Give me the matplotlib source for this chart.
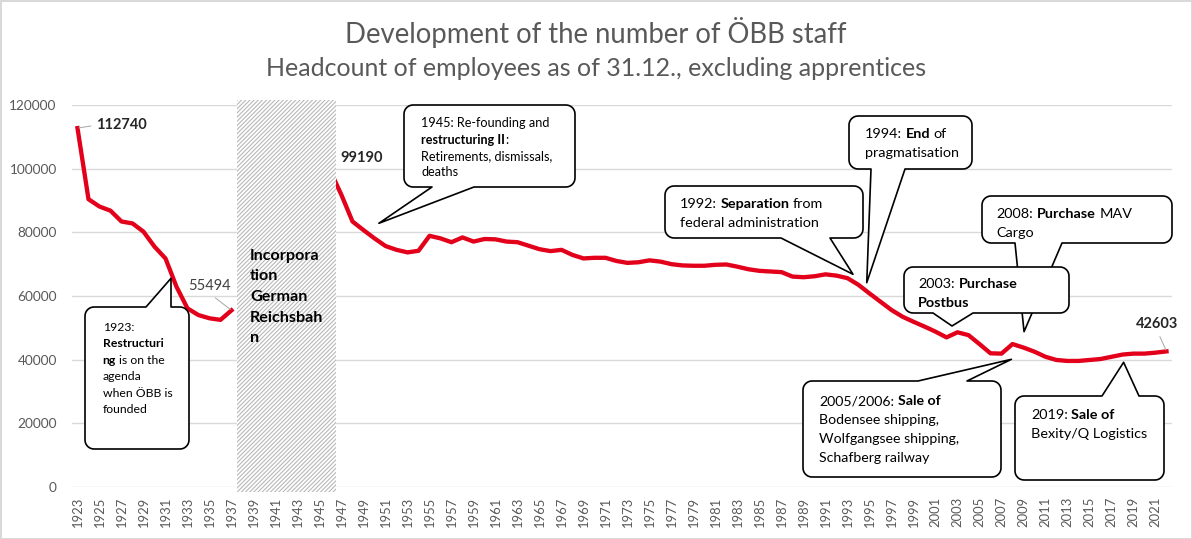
import numpy as np
import matplotlib
matplotlib.use("Agg")
import matplotlib.pyplot as plt
import matplotlib.patches as mpatches
import matplotlib.transforms as mtransforms

plt.rcParams['font.family'] = ['Lato', 'DejaVu Sans']
plt.rcParams['hatch.linewidth'] = 0.8

W, H = 1192, 539
RED = '#e2001a'
GREY = '#595959'

YEARS = list(range(1923, 2023))
nan = np.nan
STAFF = [
    112740, 90400, 88100, 86800, 83400, 82800, 80200, 75500, 71800, 62900,   # 1923-1932
    56100, 54000, 53000, 52500, 55494, nan, nan, nan, nan, nan,              # 1933-1942
    nan, nan, nan, 99190, 91700, 83400, 80700, 78100, 75700, 74500,          # 1943-1952
    73700, 74200, 78900, 78100, 76900, 78400, 77100, 77900, 77800, 77100,    # 1953-1962
    76900, 75800, 74700, 74100, 74500, 72900, 71800, 72000, 72000, 71000,    # 1963-1972
    70400, 70600, 71200, 70800, 70000, 69600, 69500, 69500, 69800, 69900,    # 1973-1982
    69200, 68400, 67900, 67700, 67500, 66100, 65900, 66200, 66800, 66400,    # 1983-1992
    65600, 63500, 60800, 58200, 55600, 53500, 51900, 50400, 48800, 47000,    # 1993-2002
    48600, 47700, 44900, 42000, 41900, 44900, 43800, 42500, 40900, 39900,    # 2003-2012
    39600, 39600, 39900, 40200, 40900, 41600, 41900, 41900, 42200, 42603,    # 2013-2022
]
WAR_SPAN = (1938, 1946)
TICK_YEARS = YEARS[:-1:2]
Y_TICKS = [0, 20000, 40000, 60000, 80000, 100000, 120000]

# labelled points: year, bold, text offset (px), alignment, leader line
POINT_LABELS = [
    (1923, True, (19, 3), 'left', True),
    (1937, False, (-22, 24), 'center', True),
    (1946, True, (10, 13), 'left', False),
    (2022, True, (-9, 27), 'center', True),
]

# callouts: box (l, t, r, b) in image px, tail side, tail base x, tip (year, value),
# text start (px), font size, line height, lines of (text, bold)
CALLOUTS = [
    dict(box=(85, 307, 189, 449), side='top', base=(146, 171), tip=(1931.5, 65560),
         text=(102.7, 327.3), size=8.8, lh=16.5,
         lines=[[("1923:", 0)], [("Restructuri", 1)], [("ng", 1), (" is on the", 0)],
                [("agenda", 0)], [("when ÖBB is", 0)], [("founded", 0)]]),
    dict(box=(404, 105, 575, 187), side='bottom', base=(432, 474), tip=(1950.4, 82840),
         text=(421, 123.3), size=9.1, lh=16.4,
         lines=[[("1945: Re-founding and", 0)], [("restructuring II", 1), (":", 0)],
                [("Retirements, dismissals,", 0)], [("deaths", 0)]]),
    dict(box=(665, 186, 863, 238), side='bottom', base=(781, 830), tip=(1993.5, 66820),
         text=(680, 204.3), size=10.4, lh=18.4,
         lines=[[("1992:", 0), (" Separation", 1), (" from", 0)],
                [("federal administration", 0)]]),
    dict(box=(849, 116, 972, 169), side='bottom', base=(871, 905), tip=(1994.75, 64180),
         text=(865, 134.3), size=10.4, lh=19,
         lines=[[("1994:", 0), (" End", 1), (" of", 0)], [("pragmatisation", 0)]]),
    dict(box=(982, 196, 1172, 243), side='bottom', base=(1015, 1062), tip=(2009.05, 48790),
         text=(996.7, 214.3), size=10.4, lh=19,
         lines=[[("2008:", 0), (" Purchase", 1), (" MAV", 0)], [("Cargo", 0)]]),
    dict(box=(904, 267, 1069, 313), side='bottom', base=(933, 973), tip=(2002.5, 50580),
         text=(918.3, 284.3), size=10.4, lh=19,
         lines=[[("2003:", 0), (" Purchase", 1)], [("Postbus", 1)]]),
    dict(box=(803, 381, 1001, 477), side='top', base=(918, 967), tip=(2007.9, 40110),
         text=(819.3, 401), size=10.2, lh=18.9,
         lines=[[("2005/2006:", 0), (" Sale of", 1)], [("Bodensee shipping,", 0)],
                [("Wolfgangsee shipping,", 0)], [("Schafberg railway", 0)]]),
    dict(box=(1015, 396, 1164, 480), side='top', base=(1102, 1139), tip=(2018.1, 39170),
         text=(1031, 415), size=10.4, lh=19.3,
         lines=[[("2019:", 0), (" Sale of", 1)], [("Bexity/Q Logistics", 0)]]),
]

WAR_TEXT = ["Incorpora", "tion", "German", "Reichsbah", "n"]


def callout_polygon(box, side, base, tip, rad=9):
    l, t, r, b = box
    verts = []

    def arc(cx, cy, a0, a1):
        for a in np.linspace(a0, a1, 8):
            verts.append((cx + rad * np.cos(a), cy + rad * np.sin(a)))

    arc(l + rad, t + rad, np.pi, 1.5 * np.pi)
    if side == 'top':
        verts += [(base[0], t), tip, (base[1], t)]
    arc(r - rad, t + rad, 1.5 * np.pi, 2 * np.pi)
    arc(r - rad, b - rad, 0, 0.5 * np.pi)
    if side == 'bottom':
        verts += [(base[1], b), tip, (base[0], b)]
    arc(l + rad, b - rad, 0.5 * np.pi, np.pi)
    return verts


fig = plt.figure(figsize=(W / 100, H / 100), dpi=100)
fig.patch.set_edgecolor('#d9d9d9')
fig.patch.set_linewidth(2)
pix = mtransforms.Affine2D().scale(1 / W, -1 / H).translate(0, 1) + fig.transFigure

ax = fig.add_axes([72 / W, (H - 487) / H, 1100 / W, 382 / H])
staff = np.array(STAFF, dtype=float)
ax.plot(YEARS, staff, color=RED, lw=3.1, solid_joinstyle='round', zorder=3)

ax.set_xlim(YEARS[0] - 0.5, YEARS[-1] + 0.5)
ax.set_ylim(0, 120000)
ax.set_xticks(TICK_YEARS, labels=[str(y) for y in TICK_YEARS], rotation=90)
ax.set_yticks(Y_TICKS, labels=[str(v) for v in Y_TICKS])
ax.tick_params(axis='x', length=0, pad=7, labelsize=9.4, labelcolor=GREY)
ax.tick_params(axis='y', length=0, pad=11, labelsize=9.8, labelcolor=GREY)
ax.grid(axis='y', color='#d9d9d9', lw=1)
ax.set_axisbelow(True)
for s in ax.spines.values():
    s.set_visible(False)

# war years: hatched block
ax.axvspan(WAR_SPAN[0] - 0.5, WAR_SPAN[1] + 0.5, ymin=-0.013, ymax=1.013,
           facecolor='white', edgecolor='#b8b8b8', hatch='////////', lw=0,
           zorder=4, clip_on=False)
for i, s in enumerate(WAR_TEXT):
    ax.annotate(s, xy=(250, 255.7 + i * 20.7), xycoords=pix, ha='left', va='center',
                fontsize=11.6, fontweight='bold', color='black', zorder=5)

# point labels
for year, bold, off, ha, leader in POINT_LABELS:
    val = staff[YEARS.index(year)]
    arrow = None
    if leader:
        arrow = dict(arrowstyle='-', color='#a6a6a6', lw=0.7, shrinkA=2, shrinkB=1,
                     relpos=(0, 0.5) if ha == 'left' else (0.5, 0))
    ax.annotate(f"{int(val)}", xy=(year, val), xytext=off, textcoords='offset pixels',
                ha=ha, va='center', fontsize=10.5,
                fontweight='bold' if bold else 'normal',
                color='#262626' if bold else '#404040',
                arrowprops=arrow, zorder=6)

renderer = fig.canvas.get_renderer()


def space_width(size, bold):
    props = matplotlib.font_manager.FontProperties(family=['Lato'], size=size,
                                                   weight='bold' if bold else 'normal')
    w1 = renderer.get_text_width_height_descent("x x", props, ismath=False)[0]
    w2 = renderer.get_text_width_height_descent("xx", props, ismath=False)[0]
    return w1 - w2


for k, c in enumerate(CALLOUTS):
    tip_disp = ax.transData.transform(c['tip'])
    tip = tuple(pix.inverted().transform(tip_disp))
    poly = mpatches.Polygon(callout_polygon(c['box'], c['side'], c['base'], tip),
                            closed=True, transform=pix, facecolor='white',
                            edgecolor='black', lw=1.2, joinstyle='round',
                            clip_on=False, zorder=10 + 2 * k)
    ax.add_patch(poly)
    x0, y0 = c['text']
    for i, segs in enumerate(c['lines']):
        prev = None
        for txt, bold in segs:
            kw = dict(fontsize=c['size'], fontweight='bold' if bold else 'normal',
                      color='black', ha='left', zorder=11 + 2 * k, annotation_clip=False)
            if prev is None:
                prev = ax.annotate(txt, xy=(x0, y0 + i * c['lh']), xycoords=pix,
                                   va='center', **kw)
            else:
                n = len(txt) - len(txt.lstrip(' '))
                gap = n * space_width(c['size'], bold)
                prev = ax.annotate(txt.lstrip(' '), xy=(1, 0), xycoords=prev,
                                   xytext=(gap, 0), textcoords='offset pixels',
                                   va='bottom', **kw)

fig.text(596 / W, 1 - 33 / H, "Development of the number of ÖBB staff",
         ha='center', va='center', fontsize=19.8, color=GREY)
fig.text(596 / W, 1 - 68 / H, "Headcount of employees as of 31.12., excluding apprentices",
         ha='center', va='center', fontsize=18, color=GREY)

fig.savefig("out.png", dpi=100, edgecolor=fig.get_edgecolor())
